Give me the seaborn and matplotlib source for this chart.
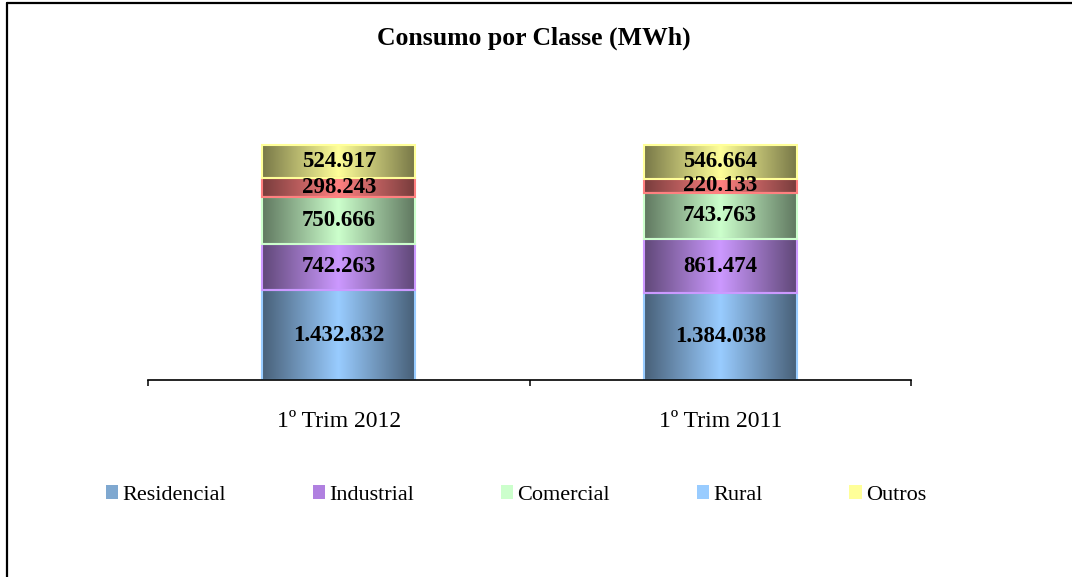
import matplotlib
matplotlib.use('Agg')
import matplotlib.pyplot as plt
import seaborn as sns
import numpy as np
import pandas as pd
from matplotlib.colors import to_rgb
from matplotlib.lines import Line2D
from matplotlib.patches import Patch

# data
periods = ['1º Trim 2012', '1º Trim 2011']
residencial = [1432832, 1384038]
industrial = [742263, 861474]
comercial = [750666, 743763]
rural = [298243, 220133]
outros = [524917, 546664]

series_names = ['Residencial', 'Industrial', 'Comercial', 'Rural', 'Outros']
bar_colors = ['#99CCFF', '#CC99FF', '#CCFFCC', '#FF8080', '#FFFF99']
legend_colors = ['#7FA8D0', '#B080E0', '#CCFFCC', '#99CCFF', '#FFFF99']


def fmt(v):
    return f'{v:,}'.replace(',', '.')


sns.set_theme(style='white')
plt.rcParams['font.family'] = ['Liberation Serif', 'DejaVu Serif']
plt.rcParams['text.color'] = 'black'

W, H = 1072, 577
fig = plt.figure(figsize=(W / 100, H / 100), dpi=100)
ax = fig.add_axes([148 / W, 1 - 380 / H, (911 - 148) / W, (380 - 98) / H])

values = [residencial, industrial, comercial, rural, outros]
bottom = np.zeros(len(periods))
ramp = 1 - np.abs(2 * np.linspace(0, 1, 256) - 1)

for name, vals, col in zip(series_names, values, bar_colors):
    n_before = len(ax.patches)
    df = pd.DataFrame({'period': periods, 'value': vals})
    sns.barplot(data=df, x='period', y='value', width=0.4, color=col,
                saturation=1, errorbar=None, ax=ax)
    new_bars = ax.patches[n_before:]

    light = np.array(to_rgb(col))
    dark = light * 0.47
    img = (dark + (light - dark) * ramp[:, None])[None, :, :]

    for p, b, v in zip(new_bars, bottom, vals):
        p.set_y(b)
        x0, w = p.get_x(), p.get_width()
        im = ax.imshow(img, extent=[x0, x0 + w, b, b + v], aspect='auto',
                       interpolation='bilinear', zorder=1)
        im.set_clip_path(p)
        p.set_facecolor('none')
        p.set_edgecolor(col)
        p.set_linewidth(1.5)
        p.set_zorder(2)
        ax.text(x0 + w / 2, b + v / 2, fmt(v), ha='center', va='center',
                fontsize=16.5, fontweight='bold', color='black', zorder=3)
    bottom = bottom + np.array(vals)

ax.set_xlim(-0.5, 1.5)
ax.set_ylim(0, 4.5e6)
ax.set_xlabel('')
ax.set_ylabel('')
ax.set_yticks([])
ax.set_xticks([0, 1])
ax.set_xticklabels(periods)
ax.set_xticks([-0.5, 0.5, 1.5], minor=True)
ax.tick_params(axis='x', which='major', length=0, pad=22, labelsize=17,
               labelcolor='black')
ax.tick_params(axis='x', which='minor', bottom=True, direction='out',
               length=4.5, width=1.1, color='black')
for s in ['left', 'top', 'right']:
    ax.spines[s].set_visible(False)
ax.spines['bottom'].set_color('black')
ax.spines['bottom'].set_linewidth(1.2)
ax.spines['bottom'].set_zorder(4)
ax.set_facecolor('white')

fig.text(534 / W, 1 - 38 / H, 'Consumo por Classe (MWh)', ha='center',
         va='center', fontsize=18.5, fontweight='bold', color='black')

handles = [Patch(facecolor=c, edgecolor='none', label=n)
           for n, c in zip(series_names, legend_colors)]
leg = fig.legend(handles=handles, loc='center',
                 bbox_to_anchor=(516 / W, 1 - 495 / H),
                 ncol=5, frameon=False, fontsize=16, handlelength=0.55,
                 handleheight=0.55, handletextpad=0.2, columnspacing=3.9)
for t in leg.get_texts():
    t.set_color('black')

# chart area border (left and top edges)
fig.add_artist(Line2D([7 / W, 7 / W], [0, 1 - 3 / H], color='black', lw=1.6,
                      transform=fig.transFigure))
fig.add_artist(Line2D([7 / W, 1], [1 - 3 / H, 1 - 3 / H], color='black', lw=1.6,
                      transform=fig.transFigure))

fig.savefig('out.png', dpi=100)
plt.close(fig)
